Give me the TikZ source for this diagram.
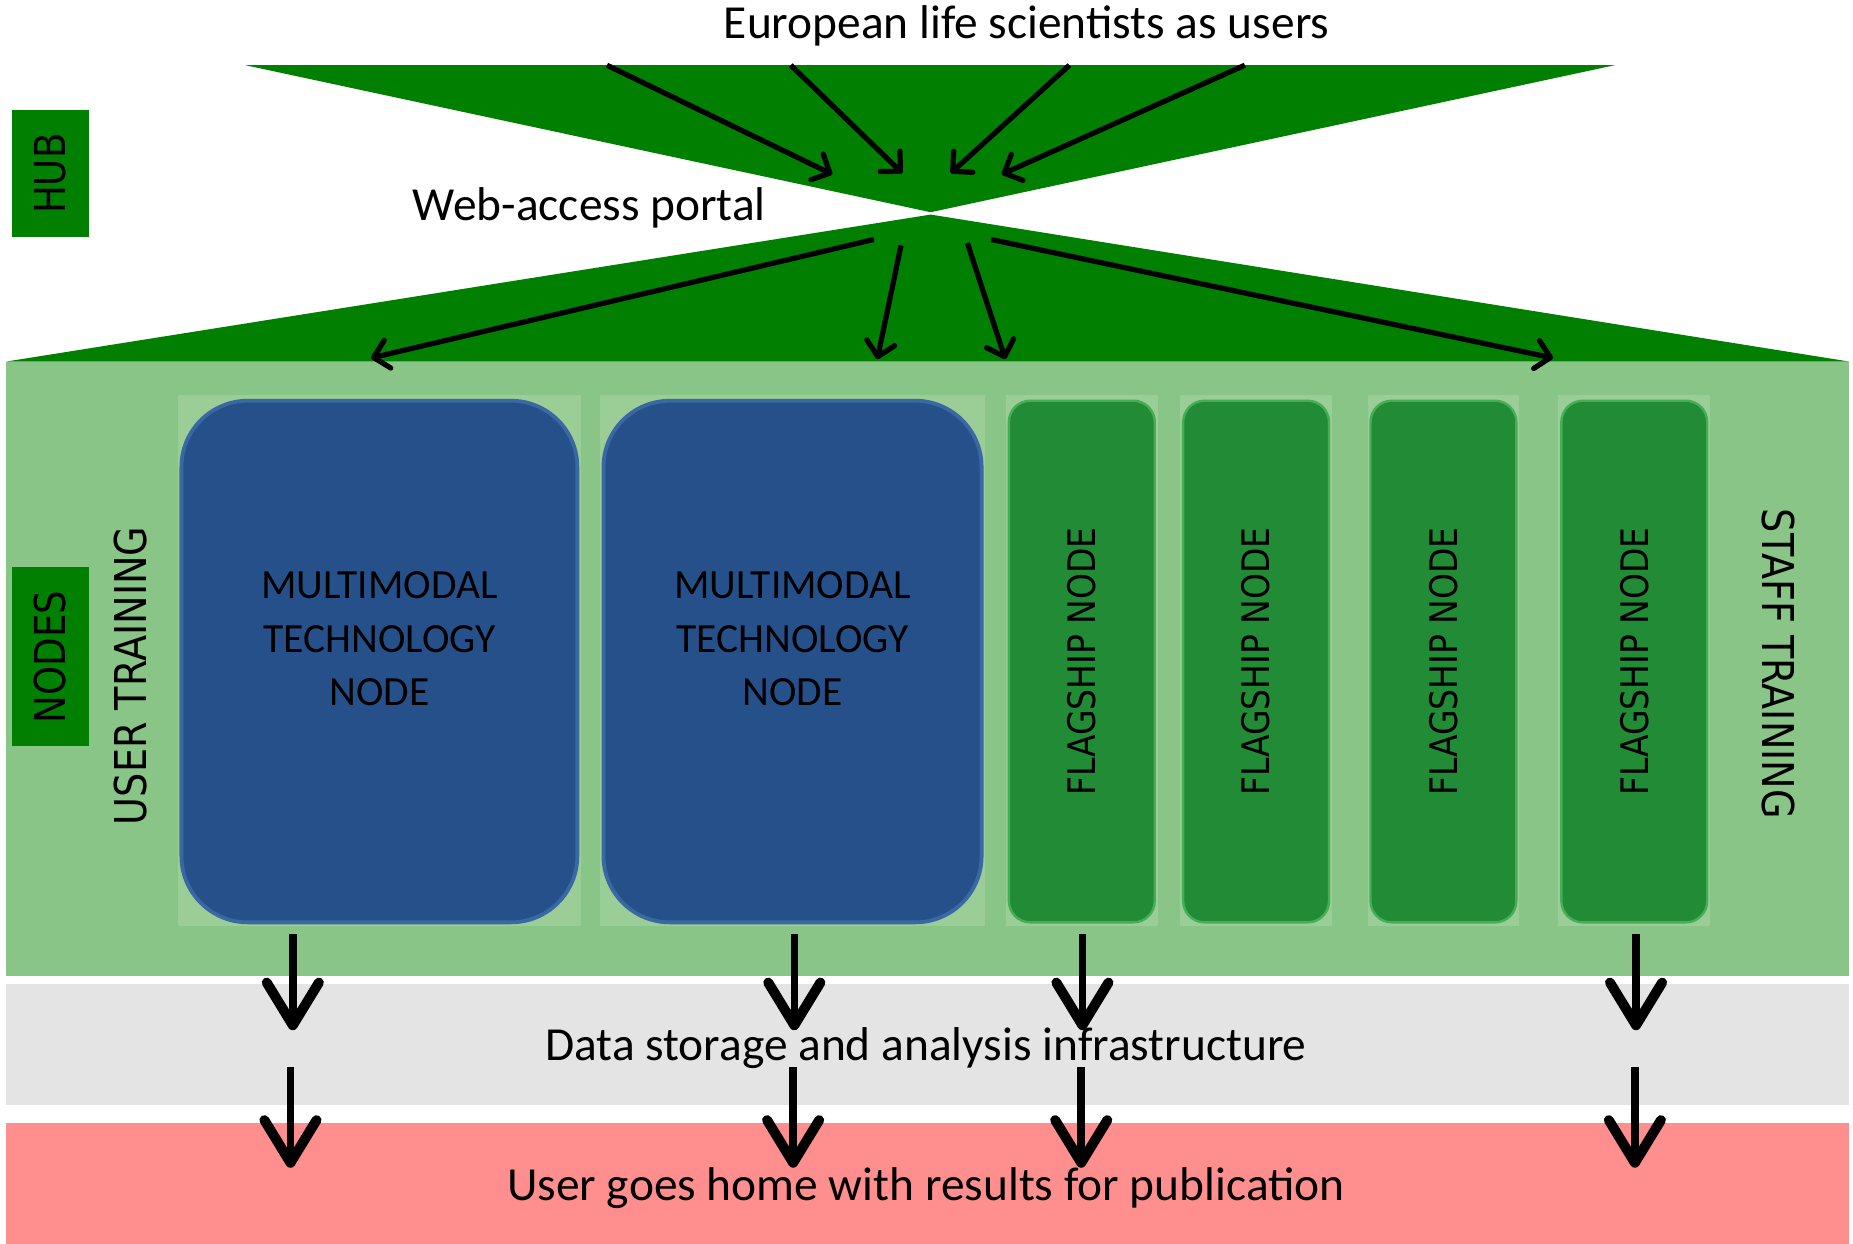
\documentclass[tikz,border=0pt]{standalone}
\usepackage{fontspec}
\setmainfont{Carlito}
\newfontfamily\gothic[FakeStretch=0.87]{DejaVu Sans}
\usetikzlibrary{arrows.meta}
\definecolor{hubgreen}{HTML}{007F00}
\definecolor{panelgreen}{HTML}{8AC588}
\definecolor{lightgreen}{HTML}{9BCD96}
\definecolor{mblue}{HTML}{26508A}
\definecolor{mblueedge}{HTML}{3A68A3}
\definecolor{fgreen}{HTML}{228B36}
\definecolor{fgreenedge}{HTML}{45AE56}
\definecolor{bandgrey}{HTML}{E4E4E4}
\definecolor{bandred}{HTML}{FF8E8E}
\begin{document}
\begin{tikzpicture}[x=0.5pt,y=-0.5pt,
  bigtext/.style={font=\fontsize{20}{24}\selectfont, inner sep=0pt},
  sidebox/.style={fill=hubgreen, rotate=90, minimum height=32.5pt, inner sep=0pt,
     font=\gothic\fontsize{18}{18}\selectfont},
  sidetext/.style={inner sep=0pt, font=\gothic\fontsize{18.5}{18.5}\selectfont},
  mtn/.style={fill=mblue, draw=mblueedge, line width=1.6pt, rounded corners=28pt,
     minimum height=220pt, inner sep=0pt},
  mtntext/.style={align=center, inner sep=0pt, font=\fontsize{17.5}{22.5}\selectfont},
  flag/.style={fill=fgreen, draw=fgreenedge, line width=1pt, rounded corners=9pt, rotate=90,
     minimum width=220pt, minimum height=61.5pt, inner sep=0pt,
     font=\gothic\fontsize{16}{16}\selectfont},
  thin/.style={line width=2.2pt, -{Straight Barb[round,length=6pt,width=12pt]}},
  thick/.style={line width=3.2pt, -{Straight Barb[round,length=18pt,width=22pt,line width=4.2pt]}},
]
\useasboundingbox (0,0) rectangle (1563,1049);
% hub triangles
\fill[hubgreen] (207,55) -- (1362,55) -- (785,179) -- cycle;
\fill[hubgreen] (785,181) -- (1560,305) -- (5,305) -- cycle;
% bands
\fill[panelgreen] (5,305) rectangle (1560,823);
\fill[bandgrey] (5,830) rectangle (1560,932);
\fill[bandred] (5,947) rectangle (1560,1049);
% texts
\node[bigtext] (users) at (866,22) {European life scientists as users};
\node[bigtext] (portal) at (497,175) {Web-access portal};
\node[bigtext] (data) at (781,884) {Data storage and analysis infrastructure};
\node[bigtext] (home) at (781,1002) {User goes home with results for publication};
% side labels
\node[sidebox, minimum width=53.5pt] (hub) at (42.5,146.5) {HUB};
\node[sidebox, minimum width=75.5pt] (nodes) at (42.5,554) {NODES};
\node[sidetext, rotate=90] (usertr) at (110,570) {USER TRAINING};
\node[sidetext, rotate=-90] (stafftr) at (1500,560) {STAFF TRAINING};
% node backgrounds
\fill[lightgreen] (150,333) rectangle (490,781);
\fill[lightgreen] (506,333) rectangle (831,781);
\foreach \cx in {912.5,1059.5,1217.5,1378.5}
  \fill[lightgreen] (\cx-64,333) rectangle (\cx+64,781);
% multimodal nodes
\node[mtn, minimum width=167pt] (m1) at (320,558) {};
\node[mtntext] (m1t) at ([yshift=9.5pt]m1.center) {MULTIMODAL\\TECHNOLOGY\\NODE};
\node[mtn, minimum width=159.5pt] (m2) at (668.5,558) {};
\node[mtntext] (m2t) at ([yshift=9.5pt]m2.center) {MULTIMODAL\\TECHNOLOGY\\NODE};
% flagship nodes
\node[flag] (f1) at (912.5,558) {FLAGSHIP NODE};
\node[flag] (f2) at (1059.5,558) {FLAGSHIP NODE};
\node[flag] (f3) at (1217.5,558) {FLAGSHIP NODE};
\node[flag] (f4) at (1378.5,558) {FLAGSHIP NODE};
% top arrows
\coordinate (u1) at (512,55);  \coordinate (p1) at (702,147);
\coordinate (u2) at (667,55);  \coordinate (p2) at (761,146);
\coordinate (u3) at (902,55);  \coordinate (p3) at (802,146);
\coordinate (u4) at (1050,55); \coordinate (p4) at (845,147);
\draw[thin] (u1) -- (p1);
\draw[thin] (u2) -- (p2);
\draw[thin] (u3) -- (p3);
\draw[thin] (u4) -- (p4);
% lower arrows
\coordinate (q1) at (737,202); \coordinate (r1) at (313,302);
\coordinate (q2) at (760,207); \coordinate (r2) at (740,303);
\coordinate (q3) at (816,205); \coordinate (r3) at (848,303);
\coordinate (q4) at (836,202); \coordinate (r4) at (1310,302);
\draw[thin] (q1) -- (r1);
\draw[thin] (q2) -- (r2);
\draw[thin] (q3) -- (r3);
\draw[thin] (q4) -- (r4);
% down arrows
\foreach \i/\xa/\xb in {1/247/245, 2/670/669, 3/913/912, 4/1380/1379} {
  \coordinate (s\i) at (\xa,788);
  \coordinate (d\i) at (\xa,869);
  \coordinate (e\i) at (\xb,900);
  \coordinate (h\i) at (\xb,985);
  \draw[thick] (s\i) -- (d\i);
  \draw[thick] (e\i) -- (h\i);
}
\end{tikzpicture}
\end{document}
